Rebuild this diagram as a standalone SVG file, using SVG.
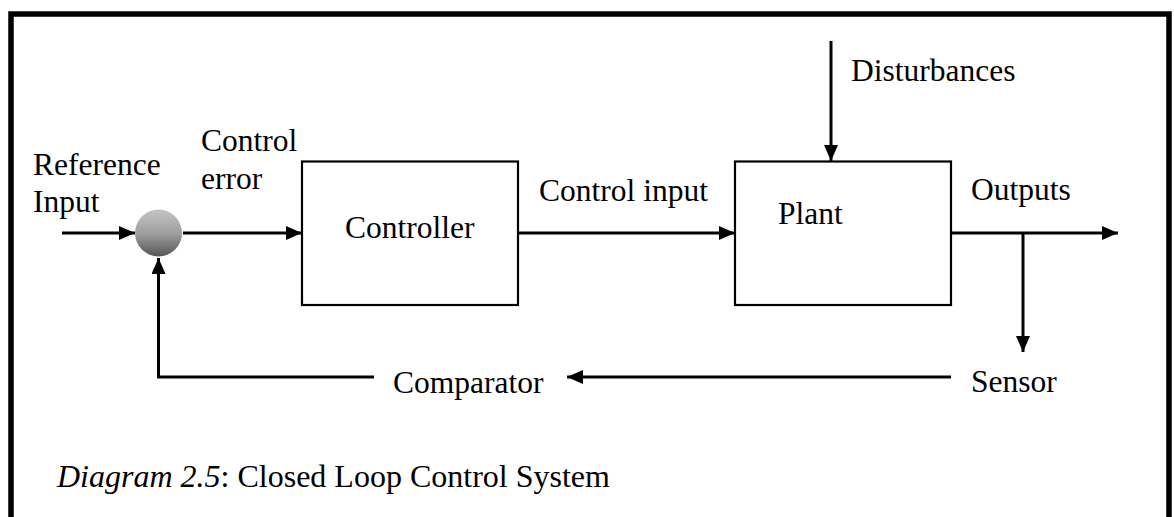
<svg xmlns="http://www.w3.org/2000/svg" width="1174" height="517" viewBox="0 0 1174 517">
<style>
text{font-family:"Liberation Serif","Times New Roman",serif;font-size:31.5px;fill:#000}
.box{fill:#fff;stroke:#000;stroke-width:2.2}
.ln{fill:none;stroke:#000;stroke-width:3}
.arr{marker-end:url(#ah)}
</style>
<defs>
<marker id="ah" viewBox="0 0 16 14" refX="16" refY="7" markerWidth="16" markerHeight="14" markerUnits="userSpaceOnUse" orient="auto">
<path d="M0,0 L16,7 L0,14 Z" fill="#000"/>
</marker>
<linearGradient id="g" x1="0" y1="0" x2="0" y2="1">
<stop offset="0" stop-color="#c4c4c4"/>
<stop offset="0.5" stop-color="#a0a0a0"/>
<stop offset="1" stop-color="#555"/>
</linearGradient>
</defs>
<rect width="1174" height="517" fill="#fff"/>
<path d="M11,530 V14 H1169 V530" fill="none" stroke="#000" stroke-width="5.5"/>
<g id="connectors">
<line class="ln arr" x1="62" y1="233" x2="135" y2="233"/>
<line class="ln arr" x1="183" y1="233" x2="302" y2="233"/>
<line class="ln arr" x1="518" y1="233" x2="735" y2="233"/>
<line class="ln arr" x1="831" y1="41" x2="831" y2="161"/>
<line class="ln arr" x1="951" y1="233" x2="1118" y2="233"/>
<line class="ln arr" x1="1023" y1="233" x2="1023" y2="352"/>
<line class="ln arr" x1="951" y1="377" x2="567" y2="377"/>
<polyline class="ln arr" points="374,377 158.5,377 158.5,258"/>
</g>
<g id="comparator-sum">
<circle cx="158.5" cy="233" r="23.5" fill="url(#g)"/>
</g>
<g id="controller">
<rect class="box" x="302" y="161.5" width="216" height="143.5"/>
<text x="345" y="238">Controller</text>
</g>
<g id="plant">
<rect class="box" x="735" y="161.5" width="216" height="143.5"/>
<text x="778" y="224">Plant</text>
</g>
<g id="labels">
<text x="33" y="175">Reference</text>
<text x="33" y="212">Input</text>
<text x="201" y="151">Control</text>
<text x="201" y="189">error</text>
<text x="539" y="201">Control input</text>
<text x="851" y="81">Disturbances</text>
<text x="971" y="200">Outputs</text>
<text x="971" y="392">Sensor</text>
<text x="393" y="393">Comparator</text>
<text x="57" y="487" style="font-size:32px"><tspan font-style="italic">Diagram 2.5</tspan>: Closed Loop Control System</text>
</g>
</svg>
